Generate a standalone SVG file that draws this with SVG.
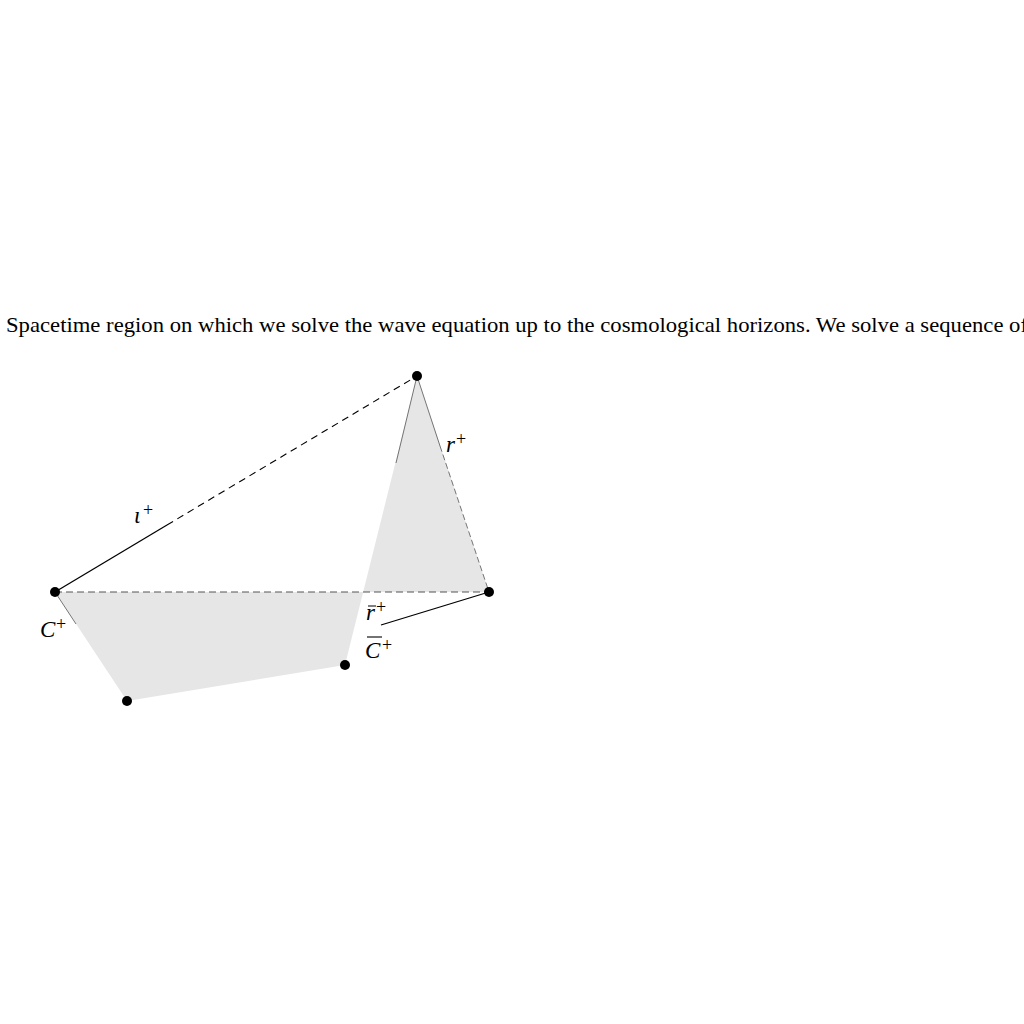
<svg xmlns="http://www.w3.org/2000/svg" width="1024" height="1024" viewBox="0 0 1024 1024">
<style>
.cap{font-family:"Liberation Serif","DejaVu Serif",serif;font-size:21px;fill:#000}
.m{font-family:"Liberation Serif","DejaVu Serif",serif;font-style:italic;font-size:23px;fill:#000}
.sup{font-family:"Liberation Serif","DejaVu Serif",serif;font-size:18px;fill:#000}
.dot{fill:#000}
.thin{stroke:#555;stroke-width:0.8;fill:none}
</style>
<rect width="1024" height="1024" fill="#fff"/>
<text class="cap" x="6" y="332" textLength="1022" lengthAdjust="spacingAndGlyphs">Spacetime region on which we solve the wave equation up to the cosmological horizons. We solve a sequence of</text>
<g id="region">
<path d="M55,592 L127,701 L345,665 L417,376 L489,592 Z" fill="#e6e6e6" fill-rule="nonzero" stroke="none"/>
</g>
<g id="connectors">
<line class="thin" x1="417" y1="376" x2="396" y2="463"/>
<line class="thin" x1="417" y1="376" x2="440" y2="446"/>
<line class="thin" x1="440" y1="446" x2="489" y2="592" stroke-dasharray="6 3"/>
<line class="thin" x1="55" y1="592" x2="76" y2="624"/>
<line x1="55" y1="592" x2="167" y2="525" stroke="#000" stroke-width="1.3"/>
<line x1="167" y1="525" x2="417" y2="376" stroke="#000" stroke-width="1.1" stroke-dasharray="7 5"/>
<line x1="55" y1="592" x2="489" y2="592" stroke="#555" stroke-width="1" stroke-dasharray="7 4"/>
<line x1="489" y1="592" x2="381" y2="625" stroke="#000" stroke-width="1.3"/>
</g>
<g id="nodes">
<circle class="dot" cx="55" cy="592" r="5"/>
<circle class="dot" cx="417" cy="376" r="5"/>
<circle class="dot" cx="489" cy="592" r="5"/>
<circle class="dot" cx="127" cy="701" r="5"/>
<circle class="dot" cx="345" cy="665" r="5"/>
</g>
<g id="labels">
<text class="m" x="134" y="523">ι</text><text class="sup" x="143" y="516">+</text>
<text class="m" x="446" y="452">r</text><text class="sup" x="456" y="445">+</text>
<text class="m" x="40" y="637">C</text><text class="sup" x="56" y="630">+</text>
<text class="m" x="366" y="620">r</text><line x1="368" y1="606" x2="376" y2="606" stroke="#000" stroke-width="1"/><text class="sup" x="376" y="613">+</text>
<text class="m" x="365" y="658">C</text><line x1="367" y1="637" x2="382" y2="637" stroke="#000" stroke-width="1.1"/><text class="sup" x="382" y="651">+</text>
</g>
</svg>
